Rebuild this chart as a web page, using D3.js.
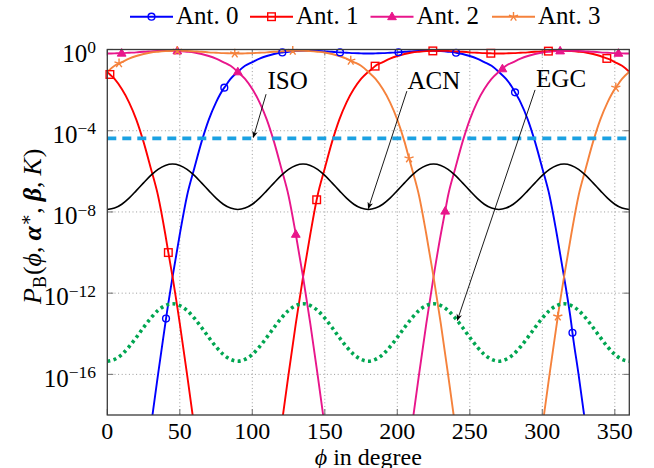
<!DOCTYPE html>
<html><head><meta charset="utf-8">
<script src="https://cdn.jsdelivr.net/npm/d3@7"></script>
<style>
html,body{margin:0;padding:0;background:#fff;}
svg{display:block;}
text{font-family:'Liberation Serif','Times New Roman',Times,'DejaVu Serif',serif;}
</style>
</head><body>
<svg id="c" width="654" height="468"></svg>
<script>
// ---------- data ----------
const phiGrid = d3.range(0, 361, 5);            // sample angles in degree
const xTicks = [0, 50, 100, 150, 200, 250, 300, 350];
const yTickExps = [0, -4, -8, -12, -16];
const seriesNames = ["Ant. 0", "Ant. 1", "Ant. 2", "Ant. 3"];

// log10 of P_B at phiGrid
const ant0Exp = [-32,-31.5,-30,-27.5,-24.5,-21.5,-18.6,-16,-13.5,-11.2,-9.1,-7.2,-5.85,-4.55,-3.45,-2.6,-1.95,-1.45,-1.1,-0.8,-0.62,-0.45,-0.32,-0.22,-0.15,-0.11,-0.08,-0.06,-0.06,-0.07,-0.09,-0.11,-0.14,-0.16,-0.18,-0.19,-0.2,-0.19,-0.18,-0.16,-0.14,-0.11,-0.09,-0.07,-0.06,-0.06,-0.08,-0.11,-0.15,-0.22,-0.32,-0.45,-0.62,-0.8,-1.1,-1.45,-1.95,-2.6,-3.45,-4.55,-5.85,-7.2,-9.1,-11.2,-13.5,-16,-18.6,-21.5,-24.5,-27.5,-30,-31.5,-32];
const ant1Exp = [-1.1,-1.45,-1.95,-2.6,-3.45,-4.55,-5.85,-7.2,-9.1,-11.2,-13.5,-16,-18.6,-21.5,-24.5,-27.5,-30,-31.5,-32,-31.5,-30,-27.5,-24.5,-21.5,-18.6,-16,-13.5,-11.2,-9.1,-7.2,-5.85,-4.55,-3.45,-2.6,-1.95,-1.45,-1.1,-0.8,-0.62,-0.45,-0.32,-0.22,-0.15,-0.11,-0.08,-0.06,-0.06,-0.07,-0.09,-0.11,-0.14,-0.16,-0.18,-0.19,-0.2,-0.19,-0.18,-0.16,-0.14,-0.11,-0.09,-0.07,-0.06,-0.06,-0.08,-0.11,-0.15,-0.22,-0.32,-0.45,-0.62,-0.8,-1.1];
const ant2Exp = [-0.2,-0.19,-0.18,-0.16,-0.14,-0.11,-0.09,-0.07,-0.06,-0.06,-0.08,-0.11,-0.15,-0.22,-0.32,-0.45,-0.62,-0.8,-1.1,-1.45,-1.95,-2.6,-3.45,-4.55,-5.85,-7.2,-9.1,-11.2,-13.5,-16,-18.6,-21.5,-24.5,-27.5,-30,-31.5,-32,-31.5,-30,-27.5,-24.5,-21.5,-18.6,-16,-13.5,-11.2,-9.1,-7.2,-5.85,-4.55,-3.45,-2.6,-1.95,-1.45,-1.1,-0.8,-0.62,-0.45,-0.32,-0.22,-0.15,-0.11,-0.08,-0.06,-0.06,-0.07,-0.09,-0.11,-0.14,-0.16,-0.18,-0.19,-0.2];
const ant3Exp = [-1.1,-0.8,-0.62,-0.45,-0.32,-0.22,-0.15,-0.11,-0.08,-0.06,-0.06,-0.07,-0.09,-0.11,-0.14,-0.16,-0.18,-0.19,-0.2,-0.19,-0.18,-0.16,-0.14,-0.11,-0.09,-0.07,-0.06,-0.06,-0.08,-0.11,-0.15,-0.22,-0.32,-0.45,-0.62,-0.8,-1.1,-1.45,-1.95,-2.6,-3.45,-4.55,-5.85,-7.2,-9.1,-11.2,-13.5,-16,-18.6,-21.5,-24.5,-27.5,-30,-31.5,-32,-31.5,-30,-27.5,-24.5,-21.5,-18.6,-16,-13.5,-11.2,-9.1,-7.2,-5.85,-4.55,-3.45,-2.6,-1.95,-1.45,-1.1];

// marker samples [phi, log10 value]
const ant0Marks = [[40.5,-13.25],[80.7,-1.88],[120.7,-0.145],[160.5,-0.143],[200.8,-0.135],[240.5,-0.16],[281.2,-2.11],[320.8,-13.95]];
const ant1Marks = [[1.8,-1.23],[42.1,-10.0],[144.4,-7.4],[184.7,-0.82],[224.5,-0.07],[264.5,-0.185],[304.2,-0.08],[344.5,-0.44]];
const ant2Marks = [[9.9,-0.18],[48.3,-0.07],[90,-1.1],[130,-9.1],[233,-7.96],[272.5,-0.95],[312.3,-0.07],[352.5,-0.185]];
const ant3Marks = [[8.1,-0.68],[48.3,-0.06],[87.9,-0.196],[127.9,-0.064],[167.9,-0.55],[208.1,-5.36],[310.7,-13.15],[350.7,-1.88]];

const isoLevel = 4.2e-5;
const acnExp = [-7.88,-7.81,-7.62,-7.32,-6.95,-6.57,-6.2,-5.9,-5.71,-5.64,-5.71,-5.9,-6.2,-6.57,-6.95,-7.32,-7.62,-7.81,-7.88,-7.81,-7.62,-7.32,-6.95,-6.57,-6.2,-5.9,-5.71,-5.64,-5.71,-5.9,-6.2,-6.57,-6.95,-7.32,-7.62,-7.81,-7.88,-7.81,-7.62,-7.32,-6.95,-6.57,-6.2,-5.9,-5.71,-5.64,-5.71,-5.9,-6.2,-6.57,-6.95,-7.32,-7.62,-7.81,-7.88,-7.81,-7.62,-7.32,-6.95,-6.57,-6.2,-5.9,-5.71,-5.64,-5.71,-5.9,-6.2,-6.57,-6.95,-7.32,-7.62,-7.81,-7.88];
const egcExp = [-15.35,-15.26,-15.02,-14.64,-14.18,-13.69,-13.23,-12.85,-12.61,-12.52,-12.61,-12.85,-13.23,-13.69,-14.18,-14.64,-15.02,-15.26,-15.35,-15.26,-15.02,-14.64,-14.18,-13.69,-13.23,-12.85,-12.61,-12.52,-12.61,-12.85,-13.23,-13.69,-14.18,-14.64,-15.02,-15.26,-15.35,-15.26,-15.02,-14.64,-14.18,-13.69,-13.23,-12.85,-12.61,-12.52,-12.61,-12.85,-13.23,-13.69,-14.18,-14.64,-15.02,-15.26,-15.35,-15.26,-15.02,-14.64,-14.18,-13.69,-13.23,-12.85,-12.61,-12.52,-12.61,-12.85,-13.23,-13.69,-14.18,-14.64,-15.02,-15.26,-15.35];

// ---------- drawing ----------
const FONT = "'Liberation Serif','Times New Roman',Times,'DejaVu Serif',serif";
const svg = d3.select("#c").attr("font-family", FONT);
const L = 107.3, R = 629.3, T = 49.5, B = 415;
const x = d3.scaleLinear().domain([0, 360]).range([L, R]);
const y = d3.scaleLog().domain([1e-18, 1]).range([B, T]);
const yE = e => y(Math.pow(10, e));

const colors = ["#0000ff", "#ff0000", "#e8168b", "#f5823c"];
const shapes = ["circle", "square", "triangle", "star"];
const FS = 25;

svg.append("defs").append("clipPath").attr("id", "clip")
  .append("rect").attr("x", L).attr("y", T - 6).attr("width", R - L).attr("height", B - T + 6);
const arrowDef = svg.select("defs").append("marker").attr("id", "arr")
  .attr("viewBox", "0 0 10 10").attr("refX", 9).attr("refY", 5)
  .attr("markerWidth", 7).attr("markerHeight", 7).attr("orient", "auto-start-reverse")
  .attr("markerUnits", "userSpaceOnUse");
arrowDef.append("path").attr("d", "M0,1 L10,5 L0,9 L3,5 Z").attr("fill", "#000");

// grid
const grid = svg.append("g");
xTicks.filter(t => t > 0).forEach(t => {
  grid.append("line").attr("x1", x(t)).attr("x2", x(t)).attr("y1", T).attr("y2", B)
    .attr("stroke", "#9a9a9a").attr("stroke-width", 1).attr("stroke-dasharray", "1 2.6");
});
yTickExps.filter(e => e < 0).forEach(e => {
  grid.append("line").attr("x1", L).attr("x2", R).attr("y1", yE(e)).attr("y2", yE(e))
    .attr("stroke", "#9a9a9a").attr("stroke-width", 1).attr("stroke-dasharray", "1 2.6");
});

// tick marks (inside, all four sides)
const tk = svg.append("g").attr("stroke", "#7a7a7a").attr("stroke-width", 1.1);
xTicks.forEach(t => {
  tk.append("line").attr("x1", x(t)).attr("x2", x(t)).attr("y1", B).attr("y2", B - 6);
  tk.append("line").attr("x1", x(t)).attr("x2", x(t)).attr("y1", T).attr("y2", T + 6);
});
yTickExps.forEach(e => {
  tk.append("line").attr("x1", L).attr("x2", L + 6).attr("y1", yE(e)).attr("y2", yE(e));
  tk.append("line").attr("x1", R).attr("x2", R - 6).attr("y1", yE(e)).attr("y2", yE(e));
});

const plot = svg.append("g").attr("clip-path", "url(#clip)");
const line = d3.line().x(d => x(d[0])).y(d => yE(d[1])).curve(d3.curveMonotoneX);

function build(exps, marks) {
  const pts = phiGrid.map((p, i) => [p, exps[i]]);
  marks.forEach(m => { if (!pts.some(p => p[0] === m[0])) pts.push(m); });
  pts.sort((a, b) => a[0] - b[0]);
  return pts;
}

function drawMarker(g, shape, color, cx, cy) {
  if (shape === "circle") {
    g.append("circle").attr("cx", cx).attr("cy", cy).attr("r", 3.4)
      .attr("fill", "none").attr("stroke", color).attr("stroke-width", 1.4);
  } else if (shape === "square") {
    g.append("rect").attr("x", cx - 3.8).attr("y", cy - 3.8).attr("width", 7.6).attr("height", 7.6)
      .attr("fill", "none").attr("stroke", color).attr("stroke-width", 1.4);
  } else if (shape === "triangle") {
    const s = 4.6;
    g.append("path").attr("d", `M${cx},${cy - s} L${cx + s * 0.95},${cy + s * 0.65} L${cx - s * 0.95},${cy + s * 0.65} Z`)
      .attr("fill", color).attr("stroke", color).attr("stroke-width", 1);
  } else {
    const r = 4.8;
    let d = "";
    for (let k = 0; k < 5; k++) {
      const a = -Math.PI / 2 + k * 2 * Math.PI / 5;
      d += `M${cx},${cy} L${cx + r * Math.cos(a)},${cy + r * Math.sin(a)} `;
    }
    g.append("path").attr("d", d).attr("fill", "none").attr("stroke", color).attr("stroke-width", 1.4);
  }
}

const antExps = [ant0Exp, ant1Exp, ant2Exp, ant3Exp];
const antMarks = [ant0Marks, ant1Marks, ant2Marks, ant3Marks];
antExps.forEach((ex, i) => {
  plot.append("path").datum(build(ex, antMarks[i])).attr("d", line)
    .attr("fill", "none").attr("stroke", colors[i]).attr("stroke-width", 1.9);
});
antMarks.forEach((mk, i) => {
  const g = svg.append("g");
  mk.forEach(m => drawMarker(g, shapes[i], colors[i], x(m[0]), yE(m[1])));
});

// ISO
plot.append("line").attr("x1", x(0)).attr("x2", x(360)).attr("y1", y(isoLevel)).attr("y2", y(isoLevel))
  .attr("stroke", "#1ba1e2").attr("stroke-width", 3.8).attr("stroke-dasharray", "9 6");
// ACN
plot.append("path").datum(phiGrid.map((p, i) => [p, acnExp[i]])).attr("d", line)
  .attr("fill", "none").attr("stroke", "#000").attr("stroke-width", 1.6);
// EGC
plot.append("path").datum(phiGrid.map((p, i) => [p, egcExp[i]])).attr("d", line)
  .attr("fill", "none").attr("stroke", "#00a651").attr("stroke-width", 3.6).attr("stroke-dasharray", "3 3.4");

// annotations
const annos = [
  { t: "ISO", tx: 110.5, te: -1.95, ax: 109.5, ae: -2.2, bx: 100.7, be: -4.33 },
  { t: "ACN", tx: 207.0, te: -1.96, ax: 206.6, ae: -2.05, bx: 180.0, be: -7.83 },
  { t: "EGC", tx: 295.7, te: -1.83, ax: 295.0, ae: -1.99, bx: 241.4, be: -13.34 }
];
annos.forEach(a => {
  svg.append("line").attr("x1", x(a.ax)).attr("y1", yE(a.ae)).attr("x2", x(a.bx)).attr("y2", yE(a.be))
    .attr("stroke", "#000").attr("stroke-width", 0.9).attr("marker-end", "url(#arr)");
  svg.append("text").attr("x", x(a.tx)).attr("y", yE(a.te)).attr("font-size", FS)
    .attr("font-family", FONT).text(a.t);
});

// frame
svg.append("rect").attr("x", L).attr("y", T).attr("width", R - L).attr("height", B - T)
  .attr("fill", "none").attr("stroke", "#3a3a3a").attr("stroke-width", 1.3);

// x tick labels
xTicks.forEach(t => {
  svg.append("text").attr("x", x(t)).attr("y", 438.5).attr("text-anchor", "middle")
    .attr("font-family", FONT).attr("font-size", 24).text(t);
});
// y tick labels
yTickExps.forEach(e => {
  const tx = svg.append("text").attr("x", 96).attr("y", yE(e) + 12.3).attr("text-anchor", "end")
    .attr("font-family", FONT).attr("font-size", FS);
  tx.append("tspan").text("10");
  tx.append("tspan").attr("dy", -8.6).attr("font-size", 17.5).text(e === 0 ? "0" : "\u2212" + (-e));
});

// x label
const xl = svg.append("text").attr("x", (L + R) / 2).attr("y", 464.5).attr("text-anchor", "middle")
  .attr("font-family", FONT).attr("font-size", 24);
xl.append("tspan").attr("font-style", "italic").text("\u03d5");
xl.append("tspan").text(" in degree");

// y label
const yl = svg.append("text").attr("transform", `translate(41,${(T + B) / 2 - 6}) rotate(-90)`)
  .attr("text-anchor", "middle").attr("font-family", FONT).attr("font-size", 26);
yl.append("tspan").attr("font-style", "italic").text("P");
yl.append("tspan").attr("dy", 5).attr("font-size", 18).text("B");
yl.append("tspan").attr("dy", -5).attr("dx", 1).text("(");
yl.append("tspan").attr("font-style", "italic").text("\u03d5");
yl.append("tspan").text(",");
yl.append("tspan").attr("dx", 6).attr("font-style", "italic").attr("font-weight", "bold").text("\u03b1");
yl.append("tspan").attr("dy", -9).attr("font-size", 18).text("\u2217");
yl.append("tspan").attr("dy", 9).text(",");
yl.append("tspan").attr("dx", 6).attr("font-style", "italic").attr("font-weight", "bold").text("\u03b2");
yl.append("tspan").text(",");
yl.append("tspan").attr("dx", 6).attr("font-style", "italic").text("K");
yl.append("tspan").attr("dx", 1).text(")");

// legend
const legX = [130, 250, 370.5, 492];
seriesNames.forEach((n, i) => {
  const g = svg.append("g");
  g.append("line").attr("x1", legX[i]).attr("x2", legX[i] + 43).attr("y1", 16.7).attr("y2", 16.7)
    .attr("stroke", colors[i]).attr("stroke-width", 1.9);
  drawMarker(g, shapes[i], colors[i], legX[i] + 21.5, 16.7);
  g.append("text").attr("x", legX[i] + 46).attr("y", 24).attr("font-size", FS)
    .attr("font-family", FONT).text(n);
});
</script>
</body></html>
